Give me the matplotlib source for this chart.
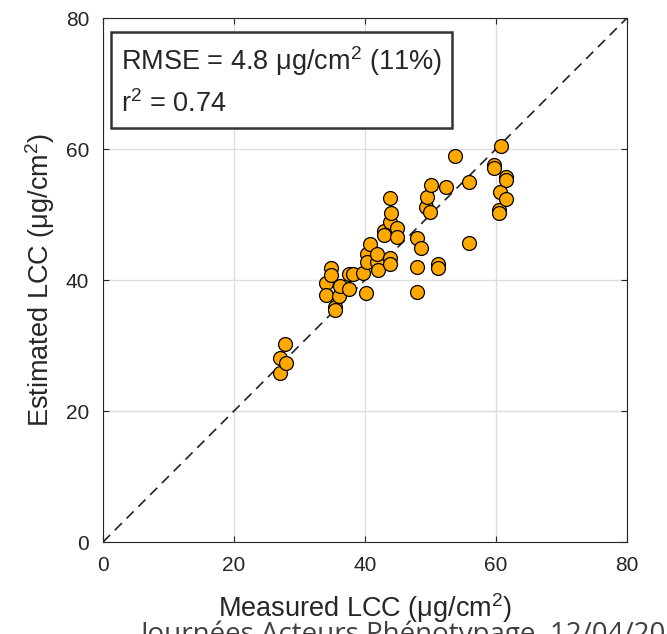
import numpy as np
import matplotlib
matplotlib.use("Agg")
import matplotlib.pyplot as plt

plt.rcParams['font.family'] = ['Liberation Sans', 'DejaVu Sans']

# measured vs estimated LCC (ug/cm2)
measured = [27.0, 27.1, 27.8, 27.9,
            34.0, 34.0, 34.8, 34.8, 35.4, 35.4, 36.0, 36.2, 37.6, 37.6, 38.2,
            39.7, 40.2, 40.3, 40.3, 40.8, 41.8, 41.9, 42.0,
            42.9, 42.9, 43.8, 43.8, 43.8, 43.8, 43.9, 44.9, 44.9,
            48.0, 48.0, 48.0, 48.6, 49.3, 49.4, 49.9, 50.1,
            51.2, 51.2, 52.3, 53.7, 55.9, 55.9,
            59.7, 59.7, 60.4, 60.4, 60.6, 60.7, 61.6, 61.6, 61.6]
estimated = [25.8, 28.1, 30.2, 27.3,
             39.5, 37.7, 41.8, 40.7, 35.9, 35.4, 37.6, 39.1, 40.9, 38.7, 40.9,
             41.0, 38.0, 44.0, 42.8, 45.5, 42.7, 44.0, 41.5,
             47.5, 46.9, 52.5, 48.9, 43.3, 42.5, 50.3, 47.9, 46.6,
             46.4, 42.0, 38.1, 44.9, 51.1, 52.7, 50.4, 54.5,
             42.5, 41.8, 54.2, 58.9, 55.0, 45.7,
             57.6, 57.1, 50.7, 50.2, 53.5, 60.5, 55.8, 55.3, 52.4]

rmse_text = 'RMSE = 4.8 $\\mathregular{\\mu g/cm^2}$ (11%)'
r2_text = '$\\mathregular{r^2}$ = 0.74'
ticks = [0, 20, 40, 60, 80]

fig = plt.figure(figsize=(6.67, 6.34), dpi=100)
ax = fig.add_axes([0.1544, 0.1451, 0.7856, 0.8265])

ax.plot([0, 80], [0, 80], color='#222222', linestyle=(0, (6, 4)),
        linewidth=1.2, zorder=2)
ax.scatter(measured, estimated, s=100, c='#FFA800', edgecolors='black',
           linewidths=0.9, zorder=3)

ax.set_xlim(0, 80)
ax.set_ylim(0, 80)
ax.set_xticks(ticks)
ax.set_yticks(ticks)
ax.tick_params(direction='in', length=4, labelsize=15, colors='#262626',
               top=True, right=True, pad=10)
ax.grid(True, color='#dddddd', linewidth=1)
ax.set_axisbelow(True)
for s in ax.spines.values():
    s.set_color('#262626')

ax.set_xlabel('Measured LCC ($\\mathregular{\\mu g/cm^2}$)', fontsize=19.5,
              color='#262626', labelpad=12)
ax.set_ylabel('Estimated LCC ($\\mathregular{\\mu g/cm^2}$)', fontsize=19.5,
              color='#262626', labelpad=6)

ax.text(0.035, 0.95, rmse_text + '\n' + r2_text, transform=ax.transAxes,
        fontsize=19.5, va='top', ha='left', color='#262626', linespacing=1.55,
        bbox=dict(boxstyle='square,pad=0.38', facecolor='white',
                  edgecolor='#333333', linewidth=1.8))

fig.text(0.21, -0.012, 'Journées Acteurs Phénotypage  12/04/2022',
         fontsize=20, color='#404040', family=['Open Sans', 'DejaVu Sans'],
         va='baseline', ha='left')

fig.savefig('out.png', dpi=100)
